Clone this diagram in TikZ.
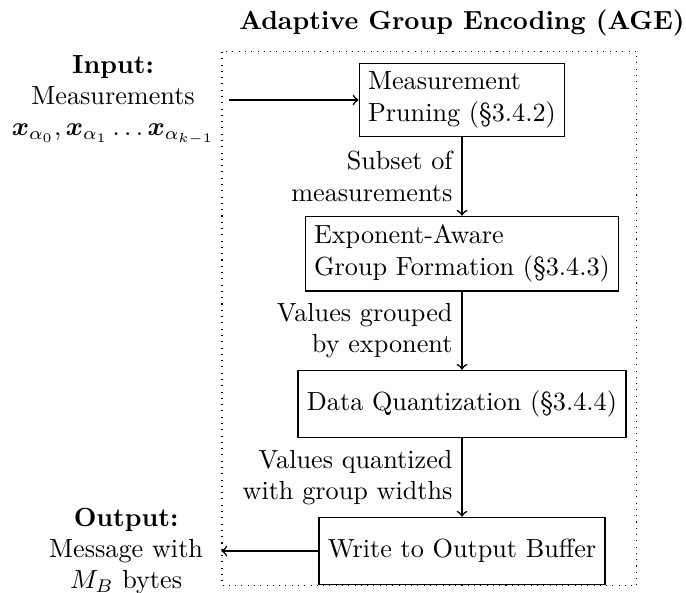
\documentclass[tikz,border=0pt]{standalone}
\usepackage{amsmath}
\usepackage{tikz}
\usetikzlibrary{arrows,positioning}

\begin{document}
\begin{tikzpicture}[->, >=to, node distance=1.05cm, semithick]
    \tikzstyle{block}=[draw, rectangle, minimum height=0.9cm, align=left]
    \tikzstyle{io}=[align=center]
    \tikzstyle{note}=[left, align=right]

    \useasboundingbox (-6.197,1.341) rectangle (3.005,-6.600);

    \node[block]  (prune)                        {Measurement\\Pruning (\S3.4.2)};
    \node[block]  (group)  [below=of prune]      {Exponent-Aware\\Group Formation (\S3.4.3)};
    \node[block]  (quant)  [below=of group]      {Data Quantization (\S3.4.4)};
    \node[block]  (write)  [below=of quant]      {Write to Output Buffer};

    \node[io, text width=2.85cm] (input)  [left=1.74cm of prune]
        {\textbf{Input:}\\Measurements\\$\boldsymbol{x}_{\alpha_0}, \boldsymbol{x}_{\alpha_1} \ldots \boldsymbol{x}_{\alpha_{k-1}}$};
    \node[io, text width=2.3cm]  (output) [left=1.3cm of write]
        {\textbf{Output:}\\Message with\\$M_B$ bytes};

    \node[font=\bfseries] (title) at (0,1.03) {Adaptive Group Encoding (AGE)};
    \draw[-, thin, dotted] (-3.219,0.644) rectangle (2.347,-6.519);

    \path (input) edge                                           (prune);
    \path (prune) edge node[note] {Subset of\\measurements}          (group);
    \path (group) edge node[note] {Values grouped\\by exponent}      (quant);
    \path (quant) edge node[note] {Values quantized\\with group widths} (write);
    \path (write) edge                                           (output);
\end{tikzpicture}
\end{document}
